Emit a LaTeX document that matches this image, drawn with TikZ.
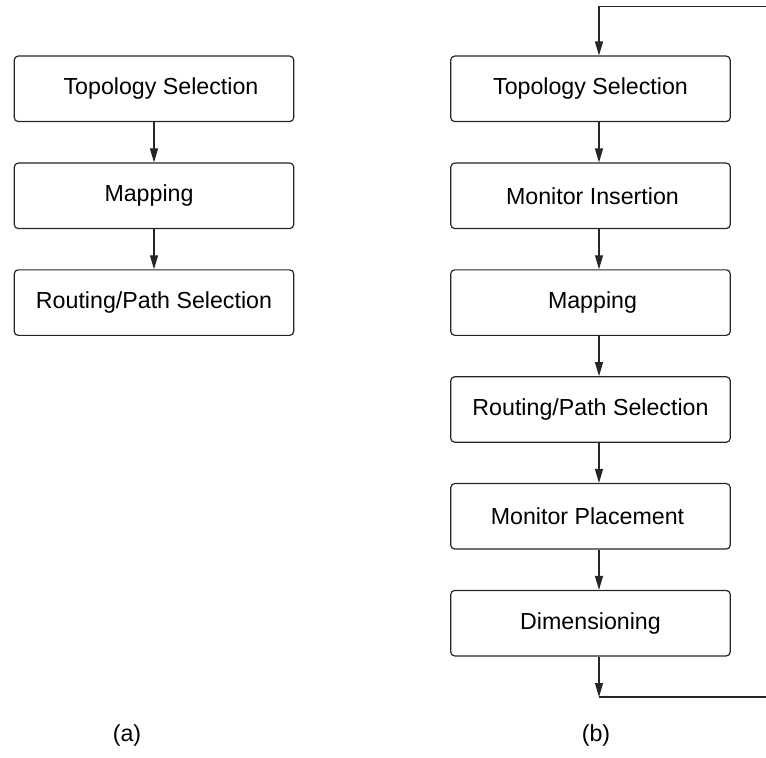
\documentclass[tikz,border=0pt]{standalone}
\usepackage{fontspec}
\setmainfont{Liberation Sans}
\usetikzlibrary{arrows.meta}
\begin{document}
\begin{tikzpicture}[x=0.5pt,y=-0.5pt,
  stepbox/.style={draw=black!85, line width=0.6pt, rounded corners=2pt,
    minimum width=139.75pt, minimum height=32.75pt, inner sep=0pt,
    font=\fontsize{11.6}{13}\selectfont},
  flow/.style={draw=black!85, line width=0.6pt, -{Triangle[length=7pt,width=4pt]}},
  plain/.style={draw=black!85, line width=0.6pt},
  caption/.style={font=\fontsize{11.6}{13}\selectfont}]
\useasboundingbox (0,0) rectangle (766,757);

% (a) basic flow
\node[stepbox] (a1) at (154,88.8)  {\hspace*{7pt}Topology Selection};
\node[stepbox] (a2) at (154,195.8) {Mapping\hspace*{5pt}};
\node[stepbox] (a3) at (154,302.6) {Routing/Path Selection};
\draw[flow] (a1) -- (a2);
\draw[flow] (a2) -- (a3);

% (b) flow with monitors and feedback loop
\node[stepbox] (b1) at (590.5,88.8)  {Topology Selection};
\node[stepbox] (b2) at (590.5,195.8) {\hspace*{2pt}Monitor Insertion};
\node[stepbox] (b3) at (590.5,302.6) {\hspace*{2pt}Mapping};
\node[stepbox] (b4) at (590.5,409.5) {Routing/Path Selection};
\node[stepbox] (b5) at (590.5,516.3) {Monitor Placement\hspace*{3pt}};
\node[stepbox] (b6) at (590.5,623.2) {Dimensioning};

\coordinate (ax) at (599,0);
\coordinate (fbtop) at (766,6.7);
\coordinate (fbbot) at (766,697);

\draw[flow] (b1.south -| ax) -- (b2.north -| ax);
\draw[flow] (b2.south -| ax) -- (b3.north -| ax);
\draw[flow] (b3.south -| ax) -- (b4.north -| ax);
\draw[flow] (b4.south -| ax) -- (b5.north -| ax);
\draw[flow] (b5.south -| ax) -- (b6.north -| ax);

\draw[flow] (fbtop) -- (fbtop -| ax) -- (b1.north -| ax);
\draw[flow] (b6.south -| ax) -- (fbbot -| ax);
\draw[plain] (fbbot -| ax) -- (fbbot);

\node[caption] (capa) at (127,735) {(a)};
\node[caption] (capb) at (596,735) {(b)};
\end{tikzpicture}
\end{document}
